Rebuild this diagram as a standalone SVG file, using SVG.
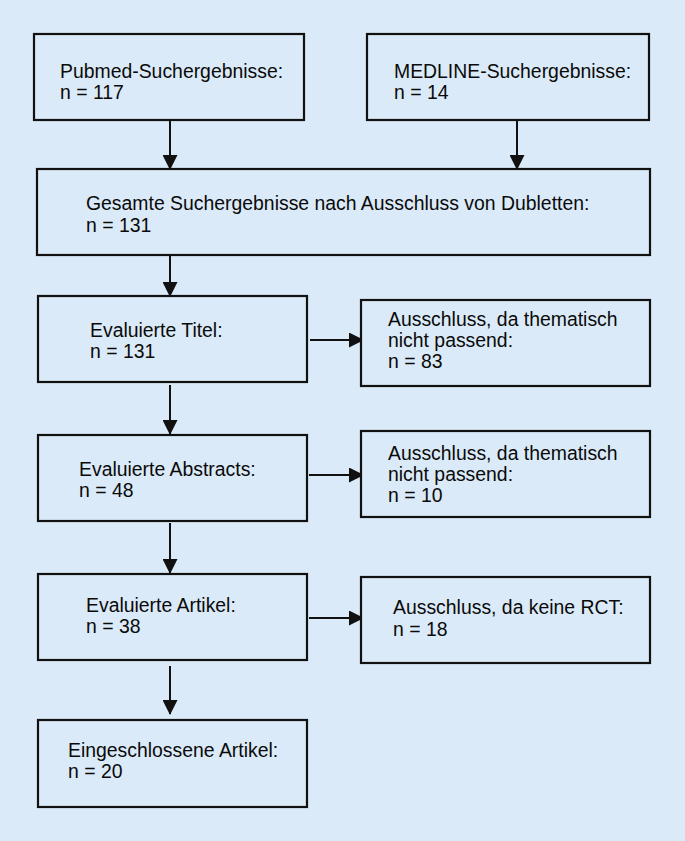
<svg xmlns="http://www.w3.org/2000/svg" width="685" height="841" viewBox="0 0 685 841">
<style>
.box{fill:#dbeaf8;stroke:#111;stroke-width:2.2}
.t{font-family:"Liberation Sans",Arial,sans-serif;font-size:19.4px;fill:#0a0a0a}
.c{stroke:#111;stroke-width:2;fill:none;marker-end:url(#ah)}
</style>
<defs>
<marker id="ah" markerWidth="15" markerHeight="15" refX="14" refY="7.5" orient="auto" markerUnits="userSpaceOnUse">
<path d="M0,0 L15,7.5 L0,15 Z" fill="#111"/>
</marker>
</defs>
<rect width="685" height="841" fill="#dbeaf8"/>
<g id="connectors">
<line class="c" x1="170" y1="120" x2="170" y2="169"/>
<line class="c" x1="517" y1="120" x2="517" y2="169"/>
<line class="c" x1="170" y1="255" x2="170" y2="296"/>
<line class="c" x1="310" y1="340" x2="363" y2="340"/>
<line class="c" x1="170" y1="385" x2="170" y2="434"/>
<line class="c" x1="309" y1="475" x2="363" y2="475"/>
<line class="c" x1="170" y1="523" x2="170" y2="573"/>
<line class="c" x1="309" y1="618" x2="363" y2="618"/>
<line class="c" x1="170" y1="666" x2="170" y2="714"/>
</g>
<g id="pubmed">
<rect class="box" x="34" y="34" width="270" height="86"/>
<text class="t" x="60" y="78">Pubmed-Suchergebnisse:</text>
<text class="t" x="60" y="99">n = 117</text>
</g>
<g id="medline">
<rect class="box" x="367" y="34" width="282" height="86"/>
<text class="t" x="394" y="78">MEDLINE-Suchergebnisse:</text>
<text class="t" x="394" y="99">n = 14</text>
</g>
<g id="gesamt">
<rect class="box" x="37" y="169" width="613" height="86"/>
<text class="t" x="86" y="210">Gesamte Suchergebnisse nach Ausschluss von Dubletten:</text>
<text class="t" x="86" y="232">n = 131</text>
</g>
<g id="titel">
<rect class="box" x="38" y="296" width="269" height="86"/>
<text class="t" x="90" y="337">Evaluierte Titel:</text>
<text class="t" x="90" y="358">n = 131</text>
</g>
<g id="excl1">
<rect class="box" x="361" y="300" width="289" height="86"/>
<text class="t" x="388" y="326">Ausschluss, da thematisch</text>
<text class="t" x="388" y="347">nicht passend:</text>
<text class="t" x="388" y="368">n = 83</text>
</g>
<g id="abstracts">
<rect class="box" x="38" y="435" width="269" height="86"/>
<text class="t" x="79" y="476">Evaluierte Abstracts:</text>
<text class="t" x="79" y="497">n = 48</text>
</g>
<g id="excl2">
<rect class="box" x="361" y="431" width="289" height="86"/>
<text class="t" x="388" y="460">Ausschluss, da thematisch</text>
<text class="t" x="388" y="481">nicht passend:</text>
<text class="t" x="388" y="502">n = 10</text>
</g>
<g id="artikel">
<rect class="box" x="38" y="574" width="269" height="86"/>
<text class="t" x="86" y="612">Evaluierte Artikel:</text>
<text class="t" x="86" y="633">n = 38</text>
</g>
<g id="excl3">
<rect class="box" x="361" y="577" width="289" height="86"/>
<text class="t" x="393" y="614">Ausschluss, da keine RCT:</text>
<text class="t" x="393" y="636">n = 18</text>
</g>
<g id="eingeschlossen">
<rect class="box" x="38" y="720" width="269" height="87"/>
<text class="t" x="68" y="757">Eingeschlossene Artikel:</text>
<text class="t" x="68" y="778">n = 20</text>
</g>
</svg>
